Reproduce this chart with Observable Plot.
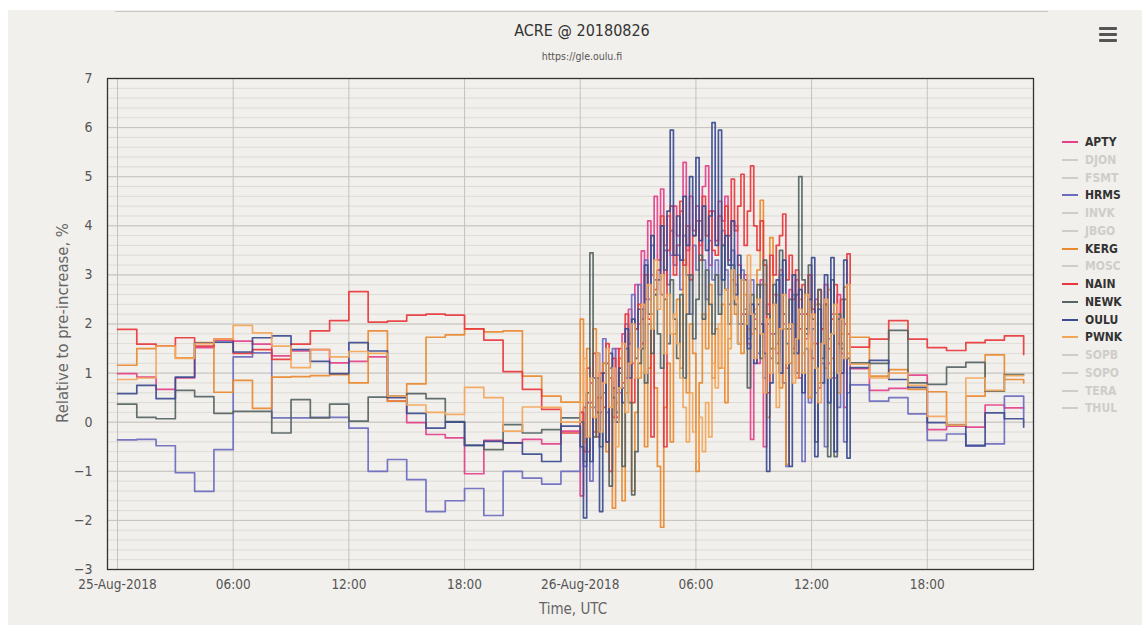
<!DOCTYPE html>
<html><head><meta charset="utf-8">
<script src="https://cdn.jsdelivr.net/npm/d3@7"></script>
<script src="https://cdn.jsdelivr.net/npm/@observablehq/plot@0.6"></script>
<style>
html,body{margin:0;padding:0;background:#fff;}
#page{position:relative;width:1142px;height:625px;overflow:hidden;}
#bg{position:absolute;left:8px;top:10px;right:0;bottom:0;background:#f2f0ec;}
#topline{position:absolute;left:115px;top:11px;width:933px;height:1px;background:#c9c7c3;}
.txt{position:absolute;font-family:"DejaVu Sans Condensed","Liberation Sans Narrow",sans-serif;white-space:nowrap;}
#title{left:0;width:1164px;top:21px;text-align:center;font-size:16px;color:#333;}
#subtitle{left:0;width:1164px;top:50px;text-align:center;font-size:10.5px;color:#555;}
#xtitle{left:0;width:1146px;top:600px;text-align:center;font-size:15px;color:#666;}
#ytitle{left:62px;top:323px;transform:translate(-50%,-50%) rotate(-90deg);font-size:16.5px;color:#666;}
#chart{position:absolute;left:0;top:0;}
#menu{position:absolute;left:1097px;top:24px;width:22px;height:20px;}
#menu div{position:absolute;left:2px;width:18px;height:3px;background:#555;border-radius:1px;}
.leg{position:absolute;left:1062px;height:16px;}
.leg .sw{position:absolute;left:0;top:7px;width:16px;height:2px;}
.leg .lb{position:absolute;left:23px;top:0;font-family:"DejaVu Sans Condensed","DejaVu Sans",sans-serif;font-weight:bold;font-size:12px;line-height:16px;}
</style>
</head><body>
<div id="page">
<div id="bg"></div>
<div id="topline"></div>
<div id="chart"></div>
<div class="txt" id="title">ACRE @ 20180826</div>
<div class="txt" id="subtitle">https://gle.oulu.fi</div>
<div class="txt" id="xtitle">Time, UTC</div>
<div class="txt" id="ytitle">Relative to pre-increase, %</div>
<div id="menu"><div style="top:3px"></div><div style="top:9px"></div><div style="top:15px"></div></div>
<div id="legend"></div>
</div>
<script>
// ---- legend / series names ----
const legendNames = ["APTY","DJON","FSMT","HRMS","INVK","JBGO","KERG","MOSC","NAIN","NEWK","OULU","PWNK","SOPB","SOPO","TERA","THUL"];
const visibleNames = ["APTY","HRMS","KERG","NAIN","NEWK","OULU","PWNK"];
const seriesColors = ["#e2418a","#6b6bbf","#e8892f","#e8383d","#566464","#3b4b8f","#f2a65a"];

// ---- tick labels ----
const yTicks = [-3,-2,-1,0,1,2,3,4,5,6,7];
const xTickLabels = ["25-Aug-2018","06:00","12:00","18:00","26-Aug-2018","06:00","12:00","18:00"];

// ---- data: 25-Aug hourly (00..23 UTC) ----
const APTY_day1 = [0.99,0.92,0.67,0.9,1.52,1.67,1.65,1.59,1.35,1.45,1.48,1.21,1.24,1.33,0.43,-0.01,-0.25,-0.32,-1.05,-0.37,-0.42,-0.35,-0.44,-0.18];
const HRMS_day1 = [-0.36,-0.35,-0.48,-1.03,-1.41,-0.56,1.33,1.41,0.09,0.09,0.1,0.1,-0.12,-1.0,-0.76,-1.17,-1.82,-1.6,-1.35,-1.9,-1.0,-1.14,-1.26,-1.0];
const KERG_day1 = [1.16,1.5,1.55,1.31,1.62,0.61,0.85,0.28,0.92,0.93,0.95,0.97,0.8,1.86,0.43,0.78,1.73,1.78,1.9,1.84,1.86,0.94,0.53,0.41];
const NAIN_day1 = [1.89,1.59,1.55,1.72,1.55,1.69,1.4,1.48,1.28,1.59,1.86,2.07,2.66,2.04,2.06,2.18,2.2,2.18,1.9,1.67,1.03,0.67,0.26,-0.22];
const NEWK_day1 = [0.37,0.1,0.07,0.65,0.52,0.18,0.22,0.22,-0.22,0.46,0.09,0.37,0.02,0.51,0.53,0.58,0.48,0.01,-0.47,-0.56,-0.05,-0.22,-0.15,0.09];
const OULU_day1 = [0.58,0.75,0.48,0.92,1.61,1.63,1.43,1.72,1.76,1.48,1.24,0.99,1.62,1.45,0.5,0.18,-0.12,0.0,-0.47,-0.39,-0.42,-0.65,-0.8,-0.08];
const PWNK_day1 = [0.87,0.9,1.55,1.3,1.6,1.69,1.97,1.82,1.55,1.11,1.48,1.33,1.44,1.4,0.53,0.35,0.2,0.16,0.71,0.5,-0.18,0.31,0.3,0.0];

// ---- data: 26-Aug 00:00-13:50, 10-minute values ----
const APTY_event = [-1.5,0.3,-0.6,0.8,-0.2,0.5, 0.2,1.2,-0.4,0.9,0.1,1.5, 0.6,1.8,0.9,2.3,1.2,2.8, 2.0,3.49,2.5,4.1,3.0,4.6, 3.3,4.75,3.6,4.2,3.4,4.4, 3.8,4.3,5.29,3.5,4.6,3.9, 4.4,3.6,4.8,5.22,3.2,4.3, 3.7,4.5,4.1,4.6,3.3,4.1, 4.0,3.2,2.2,3.0,1.6,-0.35, 2.1,1.2,2.9,-0.5,2.4,1.8, 2.6,1.4,3.1,2.0,1.1,2.7, 1.5,2.9,0.9,2.2,1.7,3.0, 1.3,2.5,0.7,1.9,2.8,1.2, 2.2,0.9,2.6,1.4,0.3,1.8];
const HRMS_event = [0.2,-0.9,0.6,-1.2,0.3,1.4, 0.5,1.7,0.2,1.1,1.5,0.6, 1.3,0.7,2.0,1.6,2.6,1.9, 2.8,2.1,3.3,2.5,3.6,2.9, 3.1,2.6,3.5,2.8,3.9,3.2, 3.4,2.7,3.8,3.0,2.2,3.6, 3.1,4.1,3.3,2.5,3.7,2.9, 3.3,2.6,3.9,3.1,2.4,3.5, 2.8,2.0,3.1,2.3,1.7,2.9, 2.2,1.4,2.8,0.9,2.0,1.3, 2.4,1.6,3.0,0.8,-0.9,1.9, 2.6,1.0,2.2,-0.8,1.5,0.4, 1.9,0.6,2.4,1.2,-0.5,1.7, 0.9,2.2,0.3,1.6,-0.4,0.6];
const KERG_event = [2.1,-0.4,1.5,0.3,1.9,-0.2, 0.5,1.2,-0.6,0.9,-1.75,0.4, 1.3,-1.6,0.6,1.8,-1.4,0.2, 0.9,1.6,-0.5,1.1,2.2,0.7, -0.9,-2.14,0.3,1.2,-0.4,1.8, 2.5,1.1,3.3,0.6,2.0,1.4, -1.0,0.8,2.2,1.5,2.8,0.9, 1.9,1.1,2.4,0.4,1.7,2.9, 2.2,3.0,1.4,2.6,1.9,1.8, 2.3,3.1,4.52,2.8,0.1,3.76, 1.5,2.6,0.7,1.9,-0.86,1.2, 2.0,0.9,2.5,1.4,2.2,0.5, 1.6,2.4,0.8,1.9,1.1,2.7, 1.3,2.2,0.6,1.8,2.75,1.4];
const NAIN_event = [0.2,-0.6,1.1,0.4,1.4,-0.3, 1.0,0.3,1.6,-1.0,1.3,0.1, 1.5,0.8,2.2,1.2,0.4,1.9, 2.4,1.6,3.0,2.1,-0.3,2.7, 3.1,4.2,-0.5,3.5,4.4,3.0, 3.6,4.5,3.2,4.0,2.9,3.8, 4.1,3.3,4.6,3.8,4.3,3.5, 3.4,4.2,3.6,4.4,3.8,4.95, 3.9,4.4,5.05,3.6,4.3,5.22, 4.0,3.5,4.1,3.2,0.6,3.4, 3.0,3.6,3.8,4.24,2.9,3.4, 2.5,3.1,1.9,2.8,2.2,3.0, 2.3,1.6,2.7,1.9,2.4,1.5, 2.1,2.8,1.6,2.5,2.0,3.43];
const NEWK_event = [0.0,-0.8,0.6,3.45,-0.3,0.9, -0.5,0.6,1.2,-1.3,0.7,0.2, 1.0,-0.9,1.5,0.4,-1.48,-0.6, 1.2,2.3,0.8,2.0,1.4,2.6, 1.8,1.1,2.5,1.6,2.9,2.1, 1.3,2.6,0.9,2.2,3.0,1.7, 2.5,3.4,2.1,3.1,2.4,1.8, 3.0,2.2,3.6,2.7,2.0,3.2, 2.4,1.6,2.9,2.2,0.7,2.6, 1.9,2.8,1.3,3.3,2.2,1.5, 2.8,1.2,3.5,2.2,1.9,2.5, 1.4,2.6,5.0,2.9,1.8,3.2, 2.1,-0.4,2.7,1.3,2.4,-0.7, 2.9,-0.7,2.2,1.5,2.5,1.3];
const OULU_event = [-0.5,-1.95,0.4,-0.8,0.9,0.2, -1.82,1.0,-0.4,1.4,0.5,0.0, 1.1,0.4,1.9,0.9,2.1,1.3, 2.3,1.5,3.2,2.2,3.8,2.6, 2.9,4.0,3.1,4.3,5.95,3.4, 4.2,3.3,4.6,3.6,5.0,3.8, 5.39,3.7,4.4,3.5,4.2,6.1, 3.6,5.95,2.9,3.8,3.2,4.1, 2.6,3.4,2.0,2.9,1.5,2.4, 1.2,2.4,2.0,1.4,-1.0,0.8, 1.8,2.9,1.0,3.3,1.6,-0.9, 3.0,1.4,2.7,0.6,1.9,2.5, 3.35,-0.7,2.3,0.8,3.0,0.4, 3.35,-0.6,2.1,1.0,3.3,-0.73];
const PWNK_event = [0.4,1.3,-0.3,0.9,0.1,1.4, -0.2,0.8,1.5,0.3,1.1,-0.5, 0.7,1.6,0.2,1.2,2.0,0.9, 1.5,2.4,1.0,2.8,1.9,3.3, 2.3,3.0,1.4,2.6,1.8,2.2, 1.6,0.9,0.3,-0.4,0.6,-0.2, -0.8,0.1,-0.6,0.4,-0.3,1.2, 0.7,2.0,1.1,2.7,1.5,3.1, 2.5,1.6,2.9,2.0,3.4,2.2, 1.3,2.5,1.8,0.6,2.1,1.0, 2.4,0.3,1.9,2.6,1.2,2.0, 0.8,1.7,2.3,1.0,2.6,1.5, 2.2,1.1,0.4,1.6,2.5,0.9, 1.8,2.4,1.0,2.1,1.3,2.8];

// ---- data: 26-Aug hourly (14..23 UTC) ----
const APTY_day2 = [1.09,0.65,0.69,0.96,-0.15,-0.08,-0.1,0.35,0.29,0.29];
const HRMS_day2 = [0.76,0.43,0.5,0.17,-0.37,-0.24,-0.49,-0.44,0.53,0.09];
const KERG_day2 = [1.73,0.94,1.07,0.67,0.62,-0.05,0.53,1.37,0.87,0.8];
const NAIN_day2 = [1.53,1.69,2.07,1.69,1.52,1.46,1.62,1.67,1.76,1.38];
const NEWK_day2 = [1.21,1.2,1.87,0.8,0.77,1.12,1.22,0.63,0.97,0.97];
const OULU_day2 = [1.11,1.26,0.87,0.71,-0.01,-0.06,-0.47,0.19,0.07,-0.1];
const PWNK_day2 = [1.18,0.9,1.0,0.75,0.12,-0.06,0.9,0.65,0.95,0.95];

// ---- build table ----
const t0 = Date.UTC(2018,7,25);
const H = 3600e3;
const parts = {
  APTY:[APTY_day1,APTY_event,APTY_day2], HRMS:[HRMS_day1,HRMS_event,HRMS_day2],
  KERG:[KERG_day1,KERG_event,KERG_day2], NAIN:[NAIN_day1,NAIN_event,NAIN_day2],
  NEWK:[NEWK_day1,NEWK_event,NEWK_day2], OULU:[OULU_day1,OULU_event,OULU_day2],
  PWNK:[PWNK_day1,PWNK_event,PWNK_day2]
};
const rows = [];
for (const name of visibleNames) {
  const [a,b,c] = parts[name];
  a.forEach((v,i)=>rows.push({series:name,t:new Date(t0+i*H),v}));
  b.forEach((v,i)=>rows.push({series:name,t:new Date(t0+24*H+i*H/6),v}));
  c.forEach((v,i)=>rows.push({series:name,t:new Date(t0+38*H+i*H),v}));
}
const xTicks = xTickLabels.map((_,i)=>new Date(t0+i*6*H));
const yMinor = d3.range(-3,7.001,0.2).map(v=>+v.toFixed(2));

const chart = Plot.plot({
  width:1142, height:625,
  marginLeft:107, marginRight:109, marginTop:78, marginBottom:56,
  style:{background:"transparent", fontFamily:"'DejaVu Sans Condensed','Liberation Sans Narrow',sans-serif", color:"#555"},
  x:{type:"utc", domain:[new Date(t0-0.52*H), new Date(t0+47.51*H)]},
  y:{domain:[-3,7]},
  color:{domain:visibleNames, range:seriesColors},
  marks:[
    Plot.ruleY(yMinor,{stroke:"#dedbd6",strokeWidth:1}),
    Plot.ruleY(yTicks,{stroke:"#c6c3be",strokeWidth:1}),
    Plot.ruleX(xTicks,{stroke:"#c6c3be",strokeWidth:1}),
    Plot.line(rows,{x:"t",y:"v",z:"series",stroke:"series",curve:"step-after",strokeWidth:1.7,strokeOpacity:0.92}),
    Plot.frame({stroke:"#333",strokeWidth:1.3}),
    Plot.axisX({ticks:xTicks, tickSize:0, tickPadding:10, fontSize:13.5, label:null,
      tickFormat:d=>xTickLabels[xTicks.findIndex(t=>+t===+d)]}),
    Plot.axisY({ticks:yTicks, tickSize:0, tickPadding:15, fontSize:14, label:null})
  ]
});
document.getElementById("chart").appendChild(chart);

// ---- legend ----
const leg = document.getElementById("legend");
legendNames.forEach((n,i)=>{
  const vi = visibleNames.indexOf(n);
  const col = vi>=0 ? seriesColors[vi] : "#cfcdca";
  const d = document.createElement("div");
  d.className="leg";
  d.style.top = (134 + i*17.75) + "px";
  d.innerHTML = `<div class="sw" style="background:${col}"></div><div class="lb" style="color:${vi>=0?'#333':'#cfcdca'}">${n}</div>`;
  leg.appendChild(d);
});
</script>
</body></html>
